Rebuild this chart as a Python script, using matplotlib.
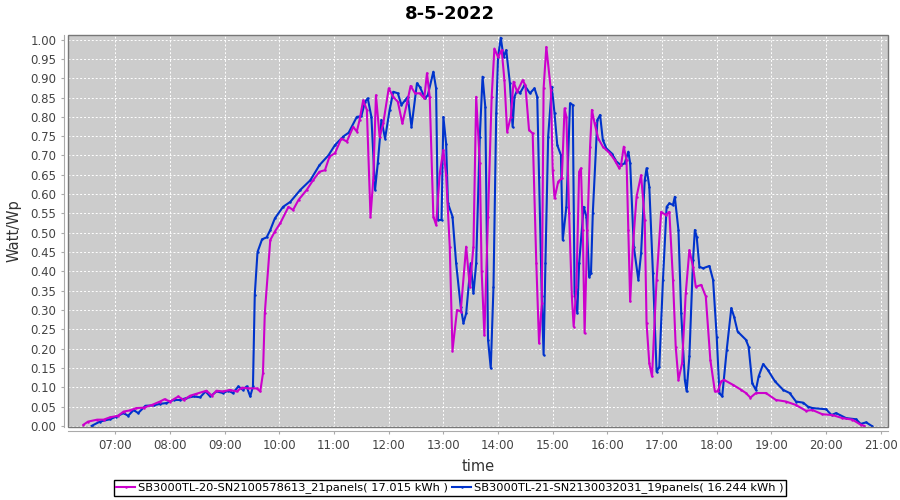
import numpy as np
import matplotlib
matplotlib.use("Agg")
import matplotlib.pyplot as plt
from matplotlib.patches import Rectangle
from matplotlib.ticker import MultipleLocator, FuncFormatter

title = "8-5-2022"
label_20 = "SB3000TL-20-SN2100578613_21panels( 17.015 kWh )"
label_21 = "SB3000TL-21-SN2130032031_19panels( 16.244 kWh )"

# SB3000TL-20 (magenta)
t20 = ["06:25", "06:30", "06:40", "06:47", "06:54", "07:03", "07:09", "07:16", "07:23", "07:31",
       "07:40", "07:49", "07:54", "08:00", "08:09", "08:15", "08:22", "08:29", "08:40", "08:46",
       "08:51", "08:58", "09:06", "09:13", "09:19", "09:26", "09:35", "09:39", "09:42", "09:44",
       "09:50", "09:55", "10:01", "10:10", "10:15", "10:21", "10:30", "10:37", "10:44", "10:50",
       "10:55", "11:01", "11:08", "11:14", "11:21", "11:25", "11:28", "11:32", "11:36", "11:40",
       "11:43", "11:46", "11:50", "11:54", "12:00", "12:05", "12:10", "12:15", "12:20", "12:24",
       "12:29", "12:34", "12:39", "12:42", "12:45", "12:49", "12:52", "12:56", "13:00", "13:03",
       "13:07", "13:10", "13:15", "13:19", "13:25", "13:29", "13:33", "13:36", "13:40", "13:42",
       "13:45", "13:49", "13:53", "13:56", "14:00", "14:04", "14:07", "14:10", "14:14", "14:17",
       "14:21", "14:27", "14:30", "14:34", "14:38", "14:42", "14:45", "14:48", "14:50", "14:53",
       "14:58", "15:00", "15:02", "15:06", "15:10", "15:13", "15:15", "15:18", "15:21", "15:23",
       "15:26", "15:29", "15:31", "15:33", "15:35", "15:38", "15:41", "15:43", "15:46", "15:50",
       "15:55", "16:03", "16:08", "16:13", "16:15", "16:18", "16:21", "16:23", "16:25", "16:28",
       "16:32", "16:37", "16:41", "16:43", "16:46", "16:49", "16:54", "16:59", "17:04", "17:08",
       "17:12", "17:15", "17:18", "17:22", "17:26", "17:30", "17:34", "17:37", "17:43", "17:48",
       "17:53", "17:58", "18:01", "18:05", "18:08", "18:18", "18:27", "18:32", "18:37", "18:43",
       "18:54", "19:05", "19:16", "19:27", "19:38", "19:45", "19:56", "20:07", "20:18", "20:29",
       "20:38", "20:42"]
w20 = [0.003, 0.011, 0.016, 0.016, 0.022, 0.026, 0.037, 0.040, 0.046, 0.047,
       0.054, 0.063, 0.069, 0.063, 0.076, 0.067, 0.078, 0.083, 0.091, 0.078,
       0.091, 0.089, 0.093, 0.089, 0.099, 0.097, 0.097, 0.089, 0.136, 0.292,
       0.481, 0.503, 0.525, 0.567, 0.559, 0.585, 0.611, 0.636, 0.658, 0.662,
       0.697, 0.706, 0.744, 0.736, 0.774, 0.762, 0.792, 0.843, 0.818, 0.542,
       0.636, 0.856, 0.749, 0.783, 0.874, 0.852, 0.839, 0.783, 0.835, 0.880,
       0.861, 0.861, 0.848, 0.913, 0.852, 0.542, 0.520, 0.654, 0.714, 0.650,
       0.464, 0.195, 0.300, 0.296, 0.464, 0.360, 0.464, 0.852, 0.680, 0.400,
       0.235, 0.542, 0.852, 0.977, 0.955, 0.973, 0.895, 0.762, 0.800, 0.891,
       0.865, 0.895, 0.882, 0.766, 0.757, 0.421, 0.214, 0.317, 0.874, 0.981,
       0.869, 0.662, 0.589, 0.632, 0.641, 0.822, 0.800, 0.550, 0.335, 0.257,
       0.360, 0.658, 0.667, 0.507, 0.240, 0.507, 0.723, 0.818, 0.783, 0.744,
       0.723, 0.705, 0.688, 0.667, 0.675, 0.723, 0.688, 0.507, 0.322, 0.464,
       0.593, 0.649, 0.533, 0.266, 0.162, 0.128, 0.378, 0.554, 0.546, 0.554,
       0.378, 0.205, 0.119, 0.162, 0.343, 0.455, 0.412, 0.360, 0.365, 0.335,
       0.171, 0.089, 0.089, 0.115, 0.119, 0.106, 0.093, 0.085, 0.073, 0.085,
       0.085, 0.067, 0.063, 0.054, 0.039, 0.041, 0.030, 0.028, 0.020, 0.016,
       0.003, 0.000]

# SB3000TL-21 (blue)
t21 = ["06:34", "06:43", "06:54", "07:01", "07:09", "07:14", "07:20", "07:25", "07:33", "07:42",
       "07:49", "07:56", "08:04", "08:11", "08:18", "08:26", "08:33", "08:39", "08:44", "08:51",
       "08:58", "09:04", "09:09", "09:15", "09:20", "09:24", "09:28", "09:31", "09:33", "09:36",
       "09:41", "09:46", "09:50", "09:55", "10:04", "10:12", "10:23", "10:34", "10:44", "10:54",
       "11:01", "11:10", "11:16", "11:25", "11:30", "11:34", "11:37", "11:41", "11:45", "11:48",
       "11:52", "11:56", "12:01", "12:05", "12:10", "12:14", "12:18", "12:21", "12:25", "12:31",
       "12:34", "12:40", "12:43", "12:49", "12:52", "12:54", "12:58", "13:00", "13:03", "13:05",
       "13:10", "13:14", "13:19", "13:22", "13:25", "13:30", "13:33", "13:36", "13:40", "13:43",
       "13:46", "13:49", "13:52", "13:55", "13:58", "14:00", "14:03", "14:06", "14:09", "14:13",
       "14:16", "14:18", "14:21", "14:24", "14:29", "14:35", "14:40", "14:43", "14:45", "14:48",
       "14:50", "14:52", "14:55", "14:59", "15:02", "15:05", "15:09", "15:11", "15:15", "15:19",
       "15:22", "15:24", "15:27", "15:29", "15:34", "15:37", "15:40", "15:42", "15:44", "15:49",
       "15:52", "15:55", "15:59", "16:05", "16:10", "16:15", "16:19", "16:23", "16:25", "16:29",
       "16:34", "16:37", "16:41", "16:43", "16:46", "16:50", "16:54", "16:57", "17:01", "17:05",
       "17:08", "17:12", "17:14", "17:18", "17:21", "17:25", "17:27", "17:30", "17:34", "17:36",
       "17:38", "17:41", "17:45", "17:52", "17:56", "18:00", "18:03", "18:06", "18:11", "18:16",
       "18:19", "18:23", "18:32", "18:35", "18:39", "18:43", "18:46", "18:51", "18:56", "19:04",
       "19:13", "19:20", "19:27", "19:35", "19:40", "19:45", "20:00", "20:06", "20:11", "20:22",
       "20:33", "20:38", "20:44", "20:50"]
w21 = [0.000, 0.011, 0.017, 0.024, 0.033, 0.026, 0.041, 0.033, 0.052, 0.053,
       0.057, 0.059, 0.067, 0.067, 0.072, 0.076, 0.074, 0.089, 0.076, 0.089,
       0.085, 0.091, 0.085, 0.102, 0.093, 0.102, 0.076, 0.102, 0.340, 0.450,
       0.483, 0.488, 0.507, 0.537, 0.567, 0.580, 0.611, 0.636, 0.675, 0.701,
       0.727, 0.749, 0.759, 0.800, 0.802, 0.839, 0.848, 0.800, 0.611, 0.680,
       0.792, 0.744, 0.818, 0.865, 0.861, 0.831, 0.843, 0.852, 0.774, 0.887,
       0.878, 0.848, 0.857, 0.917, 0.874, 0.533, 0.533, 0.800, 0.731, 0.576,
       0.542, 0.421, 0.309, 0.266, 0.291, 0.421, 0.343, 0.421, 0.749, 0.904,
       0.826, 0.223, 0.149, 0.360, 0.809, 0.955, 1.005, 0.955, 0.973, 0.887,
       0.774, 0.852, 0.869, 0.861, 0.882, 0.861, 0.874, 0.852, 0.645, 0.335,
       0.184, 0.421, 0.749, 0.878, 0.809, 0.727, 0.701, 0.481, 0.567, 0.835,
       0.831, 0.343, 0.292, 0.421, 0.567, 0.542, 0.386, 0.395, 0.550, 0.792,
       0.805, 0.740, 0.718, 0.705, 0.684, 0.675, 0.680, 0.710, 0.680, 0.464,
       0.378, 0.447, 0.636, 0.667, 0.619, 0.395, 0.140, 0.153, 0.378, 0.567,
       0.576, 0.572, 0.593, 0.507, 0.292, 0.119, 0.089, 0.180, 0.429, 0.507,
       0.490, 0.412, 0.408, 0.414, 0.378, 0.231, 0.085, 0.076, 0.197, 0.305,
       0.283, 0.244, 0.223, 0.205, 0.110, 0.093, 0.128, 0.160, 0.145, 0.115,
       0.093, 0.085, 0.063, 0.060, 0.050, 0.046, 0.043, 0.028, 0.033, 0.020,
       0.017, 0.005, 0.009, 0.000]


def to_hours(times):
    return np.array([int(s[:2]) + int(s[3:]) / 60 for s in times])


fig = plt.figure(figsize=(9, 5), dpi=100)
ax = fig.add_axes([68 / 900, 1 - 427 / 500, 820 / 900, 392 / 500])
ax.set_facecolor("#cccccc")

l21, = ax.plot(to_hours(t21), w21, color="#0033cc", lw=1.5, marker="o", ms=0.8,
               solid_joinstyle="round", label=label_21, zorder=3)
l20, = ax.plot(to_hours(t20), w20, color="#cc00cc", lw=1.5, marker="o", ms=0.8,
               solid_joinstyle="round", label=label_20, zorder=4)

ax.set_xlim(6 + 8 / 60, 21 + 8 / 60)
ax.set_ylim(-0.003, 1.012)

ax.xaxis.set_major_locator(MultipleLocator(1))
ax.xaxis.set_major_formatter(FuncFormatter(lambda v, p: "%02d:00" % round(v)))
ax.yaxis.set_major_locator(MultipleLocator(0.05))
ax.yaxis.set_major_formatter(FuncFormatter(lambda v, p: "%.2f" % v))

ax.grid(True, color="white", ls=(0, (2, 2)), lw=0.7)
ax.set_axisbelow(True)

for side in ["top", "right"]:
    ax.spines[side].set_visible(False)
for side in ["left", "bottom"]:
    ax.spines[side].set_position(("outward", 3))
    ax.spines[side].set_color("#aaaaaa")
ax.add_patch(Rectangle((0, 0), 1, 1, transform=ax.transAxes, fill=False,
                       edgecolor="#777777", lw=1, zorder=5, clip_on=False))

ax.tick_params(axis="both", labelsize=8.5, colors="#444444", length=2, width=0.8)
ax.tick_params(axis="both", color="#aaaaaa")

ax.set_xlabel("time", fontsize=10.5, color="#333333", labelpad=5)
ax.set_ylabel("Watt/Wp", fontsize=10.5, color="#333333", labelpad=6)
fig.suptitle(title, x=0.5, y=0.972, fontsize=13, fontweight="bold", va="center")

fig.legend(handles=[l20, l21], loc="center", bbox_to_anchor=(0.5, 0.024), ncol=2, fontsize=8.2,
           frameon=True, fancybox=False, edgecolor="black", framealpha=1,
           borderpad=0.25, handlelength=1.6, handletextpad=0.3, columnspacing=0.4,
           borderaxespad=0)

plt.savefig("out.png", dpi=100)
